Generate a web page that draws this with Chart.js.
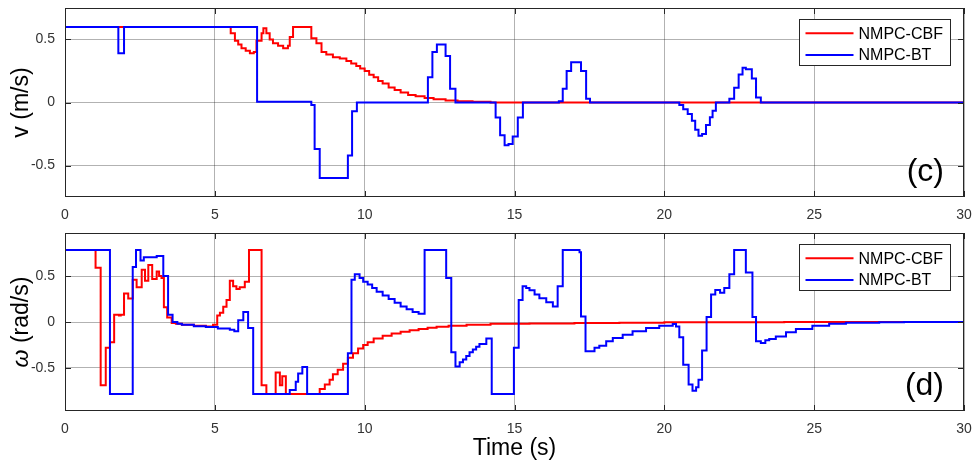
<!DOCTYPE html>
<html>
<head>
<meta charset="utf-8">
<title>NMPC-CBF vs NMPC-BT</title>
<script src="https://cdn.jsdelivr.net/npm/chart.js@4.4.1/dist/chart.umd.min.js"></script>
<style>
  html, body { margin: 0; padding: 0; background: #fff; }
  #wrap { position: relative; width: 979px; height: 473px; }
  canvas { position: absolute; left: 0; }
  #cv { top: 0; }
  #cw { top: 228px; }
</style>
</head>
<body>
<div id="wrap">
  <canvas id="cv" width="979" height="228"></canvas>
  <canvas id="cw" width="979" height="245"></canvas>
</div>
<script>
// ---- data: [time (s), value] ----
var timeTicks = [0, 5, 10, 15, 20, 25, 30];
var vTicks = [-0.5, 0, 0.5];
var wTicks = [-0.5, 0, 0.5];
var seriesNames = ['NMPC-CBF', 'NMPC-BT'];

// linear velocity v (m/s)
var vCbf = [[0,0.6],[5.53,0.55],[5.67,0.49],[5.78,0.46],[5.89,0.43],[6.03,0.41],[6.17,0.39],[6.30,0.40],
  [6.39,0.49],[6.56,0.55],[6.62,0.59],[6.72,0.55],[6.83,0.50],[6.94,0.47],[7.11,0.45],[7.28,0.43],
  [7.44,0.45],[7.50,0.52],[7.61,0.60],[8.22,0.51],[8.39,0.47],[8.56,0.40],[8.72,0.38],[8.94,0.36],
  [9.17,0.35],[9.39,0.33],[9.55,0.31],[9.72,0.29],[9.85,0.27],[10.0,0.25],[10.15,0.22],[10.3,0.20],
  [10.45,0.17],[10.6,0.15],[10.8,0.12],[11.0,0.10],[11.2,0.08],[11.45,0.06],[11.7,0.05],[12.0,0.035],
  [12.3,0.025],[12.7,0.015],[13.1,0.01],[13.6,0.005],[14.2,0],[30,0]];
var vBt = [[0,0.6],[1.78,0.39],[1.97,0.6],[6.41,0.005],[8.22,-0.02],[8.33,-0.37],[8.50,-0.6],[9.44,-0.42],
  [9.58,-0.07],[9.74,0],[12.11,0.2],[12.26,0.40],[12.41,0.46],[12.70,0.37],[12.85,0.11],[13.03,0],
  [14.37,-0.12],[14.52,-0.26],[14.67,-0.34],[14.80,-0.33],[14.94,-0.27],[15.11,-0.12],[15.28,0],
  [16.48,0.01],[16.61,0.11],[16.74,0.25],[16.89,0.32],[17.22,0.25],[17.39,0.03],[17.52,0],
  [20.50,-0.02],[20.63,-0.053],[20.78,-0.092],[20.92,-0.145],[21.03,-0.216],[21.14,-0.264],[21.26,-0.25],
  [21.39,-0.179],[21.52,-0.118],[21.61,-0.066],[21.72,0],[22.17,0.03],[22.33,0.118],[22.48,0.223],
  [22.61,0.276],[22.72,0.263],[22.92,0.19],[23.06,0.04],[23.22,0],[30,0]];

// angular velocity omega (rad/s)
var wCbf = [[0,0.785],[1.02,0.59],[1.19,-0.69],[1.36,-0.28],[1.50,-0.22],[1.64,0.08],[1.80,0.07],[1.86,0.08],
  [1.97,0.31],[2.11,0.255],[2.26,0.46],[2.39,0.38],[2.56,0.57],[2.67,0.45],[2.78,0.62],[2.91,0.47],
  [3.06,0.55],[3.14,0.50],[3.22,0.48],[3.30,0.16],[3.41,0.05],[3.56,-0.01],[3.70,-0.02],[3.90,-0.03],
  [4.30,-0.04],[4.70,-0.05],[4.94,-0.03],[5.08,0.07],[5.17,0.10],[5.28,0.165],[5.39,0.24],[5.50,0.45],
  [5.61,0.39],[5.72,0.36],[5.83,0.38],[6.00,0.44],[6.14,0.785],[6.56,-0.69],[6.72,-0.785],[7.03,-0.55],
  [7.17,-0.69],[7.25,-0.59],[7.37,-0.785],[8.50,-0.73],[8.67,-0.68],[8.83,-0.63],[8.94,-0.57],[9.10,-0.52],
  [9.28,-0.455],[9.44,-0.39],[9.61,-0.34],[9.78,-0.29],[9.95,-0.25],[10.10,-0.22],[10.30,-0.18],
  [10.60,-0.15],[10.90,-0.125],[11.20,-0.105],[11.50,-0.09],[11.80,-0.075],[12.10,-0.063],[12.40,-0.053],
  [12.80,-0.042],[13.40,-0.03],[14.20,-0.02],[15.50,-0.015],[17.00,-0.01],[18.50,-0.007],[20.00,-0.004],
  [22.00,-0.002],[24.00,0],[30,0]];
var wBt = [[0,0.785],[1.50,-0.785],[2.26,0.60],[2.37,0.785],[2.52,0.67],[2.63,0.705],[3.06,0.72],[3.28,0.50],
  [3.44,0.08],[3.59,0.0],[3.75,-0.02],[3.90,-0.03],[4.30,-0.045],[4.70,-0.055],[5.10,-0.07],[5.50,-0.085],
  [5.65,-0.1],[5.78,0.02],[5.95,0.11],[6.11,-0.066],[6.28,-0.785],[7.50,-0.74],[7.70,-0.65],[7.78,-0.56],
  [7.92,-0.49],[8.08,-0.785],[9.44,-0.34],[9.56,0.46],[9.67,0.52],[9.83,0.48],[9.95,0.44],[10.1,0.41],
  [10.25,0.37],[10.4,0.33],[10.6,0.29],[10.8,0.25],[11.0,0.21],[11.2,0.17],[11.4,0.14],[11.6,0.11],
  [11.8,0.09],[12.0,0.785],[12.72,0.48],[12.89,-0.33],[13.03,-0.485],[13.17,-0.44],[13.28,-0.41],
  [13.39,-0.37],[13.5,-0.33],[13.61,-0.30],[13.72,-0.27],[13.83,-0.24],[14.06,-0.18],[14.24,-0.785],
  [14.98,-0.28],[15.14,0.24],[15.27,0.39],[15.39,0.37],[15.5,0.345],[15.67,0.30],[15.83,0.26],
  [16.06,0.214],[16.28,0.17],[16.44,0.39],[16.61,0.785],[17.17,0.76],[17.22,0.06],[17.37,-0.32],
  [17.67,-0.28],[17.83,-0.26],[18.06,-0.21],[18.28,-0.175],[18.61,-0.14],[18.94,-0.10],[19.39,-0.066],
  [19.83,-0.04],[20.28,-0.022],[20.39,-0.05],[20.5,-0.167],[20.63,-0.466],[20.81,-0.68],[20.94,-0.75],
  [21.06,-0.71],[21.14,-0.63],[21.26,-0.31],[21.41,0.055],[21.56,0.30],[21.7,0.35],[21.86,0.32],
  [22.0,0.37],[22.17,0.52],[22.33,0.785],[22.72,0.54],[22.94,0.055],[23.06,-0.21],[23.22,-0.23],
  [23.37,-0.2],[23.5,-0.185],[23.72,-0.157],[24.06,-0.113],[24.39,-0.077],[24.94,-0.04],[25.5,-0.019],
  [26.06,-0.008],[27.17,-0.002],[28,0],[30,0]];

var FONT = "'Liberation Sans', Arial, Helvetica, sans-serif";
var RED = '#ff0000', BLUE = '#0000ff', INK = '#262626';

function pts(arr) { return arr.map(function(p){ return { x: p[0], y: p[1] }; }); }

// box, inner ticks, legend, panel letter and axis titles, drawn over the lines
var frame = {
  id: 'frame',
  afterDatasetsDraw: function(chart, args, o) {
    var ctx = chart.ctx, a = chart.chartArea, sx = chart.scales.x, sy = chart.scales.y;
    ctx.save();
    ctx.strokeStyle = INK;
    ctx.lineWidth = 1;
    ctx.beginPath();
    sx.ticks.forEach(function(t){
      var px = Math.round(sx.getPixelForValue(t.value)) + 0.5;
      ctx.moveTo(px, a.bottom); ctx.lineTo(px, a.bottom - 6);
      ctx.moveTo(px, a.top); ctx.lineTo(px, a.top + 6);
    });
    sy.ticks.forEach(function(t){
      var py = Math.round(sy.getPixelForValue(t.value)) + 0.5;
      ctx.moveTo(a.left, py); ctx.lineTo(a.left + 6, py);
      ctx.moveTo(a.right, py); ctx.lineTo(a.right - 6, py);
    });
    ctx.stroke();
    ctx.strokeRect(Math.round(a.left) + 0.5, Math.round(a.top) + 0.5,
                   Math.round(a.width) - 1, Math.round(a.height) - 1);

    // legend
    var bw = 151, bh = 46;
    var bx = Math.round(a.right - 14 - bw) + 0.5, by = Math.round(a.top + 10.5) + 0.5;
    ctx.fillStyle = '#fff';
    ctx.fillRect(bx, by, bw, bh);
    ctx.strokeStyle = INK;
    ctx.strokeRect(bx, by, bw, bh);
    ctx.font = '16px ' + FONT;
    ctx.textBaseline = 'middle';
    ctx.textAlign = 'left';
    chart.data.datasets.forEach(function(ds, i){
      var ly = by + 13.8 + i * 21.7;
      ctx.strokeStyle = ds.borderColor;
      ctx.lineWidth = 2;
      ctx.beginPath(); ctx.moveTo(bx + 6, ly); ctx.lineTo(bx + 54, ly); ctx.stroke();
      ctx.fillStyle = '#000';
      ctx.fillText(ds.label, bx + 59, ly + 1);
    });

    // panel letter
    ctx.font = '32px ' + FONT;
    ctx.fillStyle = '#000';
    ctx.textAlign = 'right';
    ctx.fillText(o.panel, a.right - 20, a.bottom - 25);

    // y title, rotated
    ctx.translate(22, (a.top + a.bottom) / 2);
    ctx.rotate(-Math.PI / 2);
    ctx.textAlign = 'left';
    var total = 0;
    o.yTitle.forEach(function(p){ ctx.font = p[1] + '23px ' + FONT; total += ctx.measureText(p[0]).width; });
    var x = -total / 2;
    o.yTitle.forEach(function(p){
      ctx.font = p[1] + '23px ' + FONT;
      ctx.fillText(p[0], x, 0);
      x += ctx.measureText(p[0]).width;
    });
    ctx.restore();

    if (o.xTitle) {
      ctx.save();
      ctx.font = '23px ' + FONT;
      ctx.fillStyle = '#000';
      ctx.textAlign = 'center';
      ctx.textBaseline = 'middle';
      ctx.fillText(o.xTitle, (a.left + a.right) / 2, a.bottom + 38);
      ctx.restore();
    }
  }
};

function makeChart(id, cbf, bt, yTicks, yLim, xAxisH, padTop, panel, yTitle, xTitle) {
  var tickFont = { family: FONT, size: 14 };
  return new Chart(document.getElementById(id).getContext('2d'), {
    type: 'line',
    data: {
      datasets: [
        { label: seriesNames[0], data: pts(cbf), borderColor: RED, borderWidth: 2, stepped: true,
          pointRadius: 0, fill: false, order: 1 },
        { label: seriesNames[1], data: pts(bt), borderColor: BLUE, borderWidth: 2, stepped: true,
          pointRadius: 0, fill: false, order: 0 }
      ]
    },
    options: {
      responsive: false,
      animation: false,
      layout: { padding: { left: 0, right: 15, top: padTop, bottom: 0 } },
      plugins: {
        legend: { display: false },
        tooltip: { enabled: false },
        frame: { panel: panel, yTitle: yTitle, xTitle: xTitle }
      },
      scales: {
        x: {
          type: 'linear', min: 0, max: 30,
          afterBuildTicks: function(s){ s.ticks = timeTicks.map(function(v){ return { value: v }; }); },
          afterFit: function(s){ s.height = xAxisH; s.paddingLeft = 0; s.paddingRight = 0; },
          grid: { color: 'rgba(0,0,0,0.3)', drawTicks: false },
          border: { display: false },
          ticks: { color: '#333', font: tickFont, padding: 10, maxRotation: 0, autoSkip: false }
        },
        y: {
          min: -yLim, max: yLim,
          afterBuildTicks: function(s){ s.ticks = yTicks.map(function(v){ return { value: v }; }); },
          afterFit: function(s){ s.width = 65; s.paddingTop = 0; s.paddingBottom = 0; },
          grid: { color: 'rgba(0,0,0,0.3)', drawTicks: false },
          border: { display: false },
          ticks: { color: '#333', font: tickFont, padding: 10 }
        }
      }
    },
    plugins: [frame]
  });
}

makeChart('cv', vCbf, vBt, vTicks, 0.75, 31, 8, '(c)', [['v', ''], [' (m/s)', '']], null);
makeChart('cw', wCbf, wBt, wTicks, 0.97, 62, 5, '(d)', [['\u03c9', 'italic '], [' (rad/s)', '']], 'Time (s)');
</script>
</body>
</html>
